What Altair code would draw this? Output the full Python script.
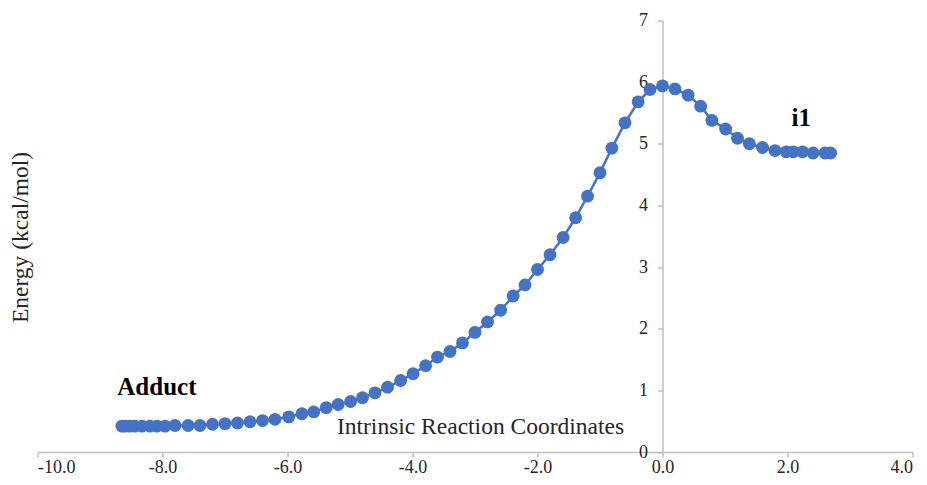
import altair as alt
import pandas as pd

irc_x = [-8.65, -8.60, -8.52, -8.44, -8.33, -8.20, -8.09, -7.96, -7.80, -7.59,
         -7.40, -7.20, -7.00, -6.80, -6.60, -6.40, -6.20, -5.98, -5.77, -5.58,
         -5.38, -5.19, -4.99, -4.80, -4.60, -4.40, -4.19, -3.99, -3.79, -3.60,
         -3.40, -3.20, -3.00, -2.80, -2.59, -2.39, -2.20, -2.00, -1.80, -1.59,
         -1.39, -1.20, -1.00, -0.81, -0.60, -0.39, -0.20, 0.00, 0.20, 0.41,
         0.61, 0.79, 1.01, 1.20, 1.39, 1.60, 1.80, 1.98, 2.09, 2.24,
         2.41, 2.60, 2.69]
energy = [0.42, 0.42, 0.42, 0.42, 0.42, 0.42, 0.42, 0.42, 0.43, 0.43,
          0.43, 0.45, 0.46, 0.47, 0.49, 0.51, 0.53, 0.57, 0.62, 0.65,
          0.72, 0.77, 0.82, 0.88, 0.96, 1.05, 1.16, 1.27, 1.40, 1.54,
          1.63, 1.77, 1.94, 2.11, 2.30, 2.53, 2.71, 2.96, 3.20, 3.48,
          3.80, 4.15, 4.53, 4.93, 5.34, 5.68, 5.88, 5.94, 5.89, 5.79,
          5.61, 5.38, 5.24, 5.09, 5.00, 4.94, 4.89, 4.87, 4.87, 4.87,
          4.85, 4.85, 4.85]

label_text = ["Adduct", "i1"]
label_x = [-8.09, 2.22]
label_y = [1.06, 5.42]

x_ticks = [-10, -8, -6, -4, -2, 0, 2, 4]
y_ticks = [0, 1, 2, 3, 4, 5, 6, 7]

df = pd.DataFrame({"x": irc_x, "y": energy})
labels = pd.DataFrame({"t": label_text, "x": label_x, "y": label_y})

FONT = "Liberation Serif"
BLUE = "#4472C4"
GRAY = "#BFBFBF"

xs = alt.Scale(domain=[-10, 4], nice=False, zero=False)
ys = alt.Scale(domain=[0, 7], nice=False)

x_axis = alt.Axis(values=x_ticks, grid=False,
                  labelExpr="(datum.value < 0 ? '-' : '') + format(abs(datum.value), '.1f')",
                  domainColor=GRAY, domainWidth=1.5, tickColor=GRAY, tickWidth=1.5,
                  tickSize=5, labelPadding=1, labelFont=FONT, labelFontSize=18,
                  labelColor="#262626",
                  title="Intrinsic Reaction Coordinates", titleFont=FONT,
                  titleFontSize=23.5, titleFontWeight="normal", titleColor="#262626",
                  titleX=442.5, titleY=-26, titleAlign="center", titleBaseline="middle")
y_axis = alt.Axis(values=y_ticks, format="d", grid=False, offset=-625,
                  domainColor=GRAY, domainWidth=1.5, tickColor=GRAY, tickWidth=1.5,
                  tickSize=5, labelPadding=10, labelFont=FONT, labelFontSize=18,
                  labelColor="#262626",
                  title="Energy (kcal/mol)", titleFont=FONT, titleFontSize=23.5,
                  titleFontWeight="normal", titleColor="#262626",
                  titleX=-642.5, titleY=216.5, titleAngle=270,
                  titleAlign="center", titleBaseline="middle")

base = alt.Chart(df)
line = base.mark_line(color=BLUE, strokeWidth=2.5).encode(
    x=alt.X("x:Q", scale=xs, axis=x_axis),
    y=alt.Y("y:Q", scale=ys, axis=y_axis),
)
pts = base.mark_circle(color=BLUE, size=165, opacity=1).encode(
    x=alt.X("x:Q", scale=xs),
    y=alt.Y("y:Q", scale=ys),
)
txt = alt.Chart(labels).mark_text(font=FONT, fontSize=25, fontWeight="bold",
                                  color="#000000", align="center",
                                  baseline="middle").encode(
    x=alt.X("x:Q", scale=xs),
    y=alt.Y("y:Q", scale=ys),
    text="t:N",
)

chart = alt.layer(line, pts, txt).properties(
    width=875, height=431.5,
    background="white",
    autosize=alt.AutoSizeParams(type="none"),
    padding={"left": 29.5, "top": 12.5, "right": 6, "bottom": 25},
).configure_view(strokeWidth=0, stroke=None)

chart.save("out.html", embed_options={"renderer": "svg", "actions": False})
